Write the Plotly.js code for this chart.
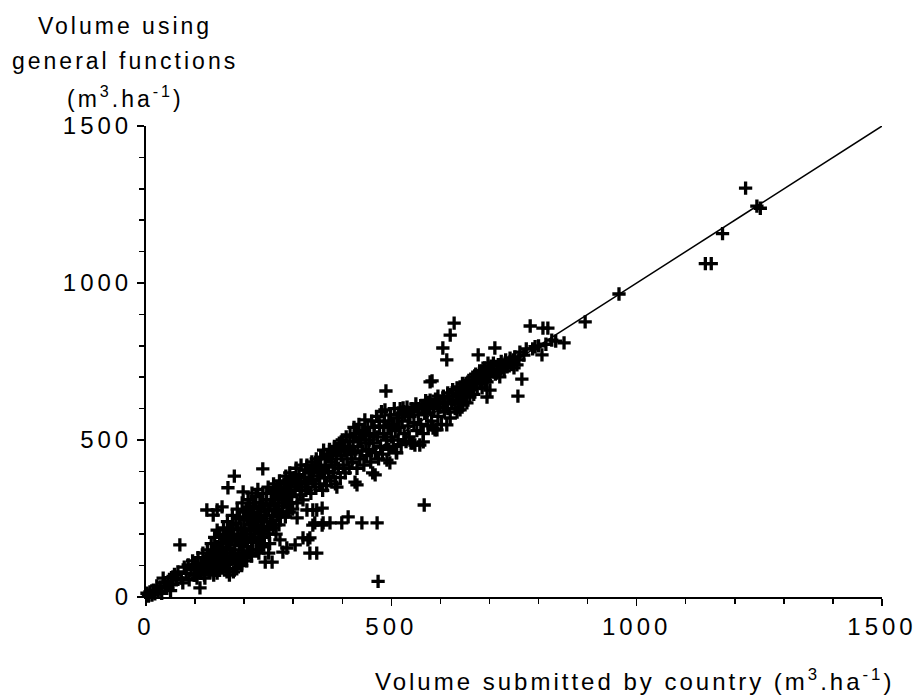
<!DOCTYPE html>
<html><head><meta charset="utf-8">
<script src="https://cdn.plot.ly/plotly-3.0.1.min.js"></script>
<style>
html,body{margin:0;padding:0;background:#fff;}
#chart{width:918px;height:696px;}
.xtick text, .ytick text { letter-spacing: 4px; }
.annotation-text { letter-spacing: 3px; }
</style></head><body><div id="chart"></div>
<script>
// Volume submitted by country (x) vs volume using general functions (y), m3/ha
const submittedA = [2,5,8,12,15,18,22,25,29,32,35,38,42,45,50,52,55,58,62,65,69,72,75,78,82,86,88,92,95,98,100,104,106,110,110,113,116,119];
const generalA   = [12,3,16,6,22,10,35,18,32,12,60,45,28,50,20,62,40,72,55,80,166,60,45,95,75,102,55,88,115,70,100,60,125,29,85,105,140,70];

const submittedB = [122,124,125,128,130,133,135,137,138,140,142,145,145,146,148,145,150,152,154,155,156,158,160,
                    162,164,167,166,168,170,172,174,176,178,179,180,181,183,185,186,188,190,191,192,194,196,198,198,200];
const generalB   = [115,277,150,95,130,170,110,261,145,190,85,76,213,160,120,277,200,140,100,287,175,220,130,
                    195,155,348,240,110,180,215,140,260,80,200,385,165,235,120,280,190,150,255,108,220,300,335,175,245];

const submittedB2 = [100,105,112,118,124,126,131,134,139,143,147,151,153,157,159,163,165,168,171,173,175,177,180,182,184,187,189,190,193,195,
                     197,199,201,203,206,209,211,213,215,217,219,221,223,225,227,229,231,233,235,237,239,241,244,246,248,250,252,254,256,259,
                     261,263,265,268,270,271,275,277,280,282,284,286,288,290,292,294,296,298,120,130,138,150,160,165,170,185,195,205,215,230,240,250];
const generalB2   = [70,90,75,95,90,125,105,135,115,150,105,125,170,150,190,125,170,205,150,120,190,230,140,105,180,215,130,250,165,195,
                     135,270,215,180,250,140,285,215,175,240,265,190,300,150,225,255,180,280,210,300,240,190,260,330,215,280,170,240,310,220,
                     275,340,200,260,320,230,350,270,300,335,255,365,300,330,270,350,300,375,60,80,70,85,95,80,70,90,100,115,130,140,165,140];

const submittedC = [202,204,205,207,208,210,212,214,216,218,218,220,222,224,226,228,228,230,232,234,236,238,238,240,
                    242,243,245,247,249,251,253,255,257,258,260,262,264,266,267,270,272,273,274,276,278,279,281,283,285,287,287,289,291,293,295,297,299];
const generalC   = [130,275,200,160,310,230,191,260,331,150,290,210,240,320,175,343,270,200,300,250,160,408,330,225,
                    280,111,310,240,350,200,290,330,111,260,360,310,230,280,345,300,370,182,255,330,290,143,360,310,385,156,270,340,300,395,360,320,280];

const submittedD = [302,304,304,306,308,308,310,312,314,316,318,320,320,322,324,326,328,328,330,330,332,334,334,336,338,340,340,340,342,344,345,347,348,348,350,352,354,356,358,359,359,360,
                    361,362,364,366,368,370,372,374,375,376,378,380,382,384,386,388,389,390,392,394,396,398,399,400,402,404,406,408,410,412,412,414,416,418,420];
const generalD   = [380,166,340,410,252,300,360,390,325,420,350,188,309,380,405,340,277,420,182,365,395,140,188,330,430,229,277,375,405,236,350,440,140,277,385,415,360,445,395,229,283,340,
                    236,468,380,420,355,450,400,470,236,370,430,460,395,480,360,440,350,470,410,490,380,450,236,500,420,465,395,510,440,255,480,410,516,455,430];

const submittedE = [422,424,426,426,428,430,430,432,434,436,438,440,440,442,444,446,448,450,452,454,456,458,460,462,463,465,467,468,470,471,472,474,476,478,480,
                    482,484,486,487,489,490,491,493,495,497,498,500,502,504,506,508,510,511,512,514,516,518,520,522,524,526,528,530,532,534,536,538];
const generalE   = [495,540,366,460,520,357,410,480,550,440,505,236,465,530,420,564,490,450,540,470,515,430,560,395,490,540,389,460,575,236,510,440,545,480,590,
                    455,520,560,596,656,500,436,540,470,427,580,510,550,480,600,530,460,459,570,500,540,600,485,560,602,520,580,495,605,545,510,575];

const submittedE2 = [305,315,325,335,345,355,365,375,385,395,405,415,425,435,445,455,465,475,485,495,505,515,525,535,545,555,565,575,585,595,605,615,625,635,645,655,665,675,685,695];
const generalE2   = [360,370,360,400,420,410,440,450,420,470,480,470,510,500,520,500,520,560,540,560,550,580,590,580,590,600,600,620,610,640,620,650,660,640,680,670,690,700,720,710];

const submittedF = [540,542,544,546,548,550,552,555,558,560,562,565,565,567,568,570,573,575,578,579,579,582,583,585,587,589,590,593,595,598,599,
                    602,605,606,608,610,613,613,615,618,620,620,623,626,628,630,632,634,634,637,640,640,642,645,646,648,650,652,654,656,658,660,660];
const generalF   = [490,600,490,555,484,615,530,580,484,550,610,494,520,293,585,625,586,545,605,627,685,560,688,538,600,532,630,532,575,615,605,
                    550,793,640,590,620,548,755,600,640,834,570,615,627,872,600,650,589,666,625,596,669,645,620,611,660,640,680,618,655,690,637,675];

const submittedG = [663,666,668,670,672,675,677,678,680,682,685,685,688,690,692,695,695,697,698,700,701,703,706,708,711,712,715,718,720,721,
                    724,727,730,733,736,738,742,745,748,750,752,756,758,760,762,766,770,775,783];
const generalG   = [660,700,645,680,710,665,771,695,720,680,666,691,705,730,690,637,685,745,715,700,659,735,720,745,793,710,713,740,725,701,
                    750,735,720,755,733,745,761,740,755,730,765,739,640,755,780,694,770,790,863];

const submittedH = [788,793,800,807,809,815,819,827,835,852,895,964,1140,1152,1175,1222,1245,1252,473];
const generalH   = [790,797,800,771,856,805,856,818,815,809,876,965,1062,1062,1157,1302,1245,1238,50];

// 1:1 line
const lineX = [0, 1500];
const lineY = [0, 1500];

const xTickVals = [0, 500, 1000, 1500];
const yTickVals = [0, 500, 1000, 1500];

const xs = [].concat(submittedA, submittedB, submittedB2, submittedC, submittedD, submittedE, submittedE2, submittedF, submittedG, submittedH);
const ys = [].concat(generalA, generalB, generalB2, generalC, generalD, generalE, generalE2, generalF, generalG, generalH);

const FONT = 'Liberation Sans, Arial, Helvetica, sans-serif';

const traces = [
  {
    x: xs, y: ys, type: 'scatter', mode: 'markers', cliponaxis: false,
    marker: {symbol: 'cross-thin-open', size: 9.5, color: '#000', line: {color: '#000', width: 3.3}},
    hoverinfo: 'skip'
  },
  {
    x: lineX, y: lineY, type: 'scatter', mode: 'lines', cliponaxis: false,
    line: {color: '#000', width: 1.5}, hoverinfo: 'skip'
  }
];

const axisCommon = {
  range: [0, 1500], showline: true, linecolor: '#000', linewidth: 2,
  ticks: 'outside', ticklen: 7, tickwidth: 1.5, tickcolor: '#000',
  tickmode: 'array', showgrid: false, zeroline: false,
  tickfont: {family: FONT, size: 24, color: '#000'},
  ticklabeloverflow: 'allow',
  minor: {dtick: 100, tick0: 0, ticks: 'outside', ticklen: 5, tickwidth: 1.5, tickcolor: '#000', showgrid: false},
  fixedrange: true
};

const layout = {
  width: 918, height: 696,
  margin: {l: 146, r: 36, t: 126, b: 99},
  paper_bgcolor: '#fff', plot_bgcolor: '#fff',
  showlegend: false,
  font: {family: FONT, size: 23, color: '#000'},
  xaxis: Object.assign({}, axisCommon, {tickvals: xTickVals, ticktext: xTickVals.map(String)}),
  yaxis: Object.assign({}, axisCommon, {tickvals: yTickVals, ticktext: yTickVals.map(String), ticklabelstandoff: 0}),
  annotations: [
    {text: 'Volume using', xref: 'paper', yref: 'paper', x: -0.0285, y: 1.212, xanchor: 'center', yanchor: 'middle', showarrow: false, font: {family: FONT, size: 23, color: '#000'}},
    {text: 'general functions', xref: 'paper', yref: 'paper', x: -0.0285, y: 1.138, xanchor: 'center', yanchor: 'middle', showarrow: false, font: {family: FONT, size: 23, color: '#000'}},
    {text: '(m<sup>3</sup>.ha<sup>-1</sup>)', xref: 'paper', yref: 'paper', x: -0.0285, y: 1.062, xanchor: 'center', yanchor: 'middle', showarrow: false, font: {family: FONT, size: 23, color: '#000'}},
    {text: 'Volume submitted by country (m<sup>3</sup>.ha<sup>-1</sup>)', xref: 'paper', yref: 'paper', x: 0.664, y: -0.176, xanchor: 'center', yanchor: 'middle', showarrow: false, font: {family: FONT, size: 24, color: '#000'}}
  ]
};

Plotly.newPlot('chart', traces, layout, {displayModeBar: false, staticPlot: true});
</script></body></html>
